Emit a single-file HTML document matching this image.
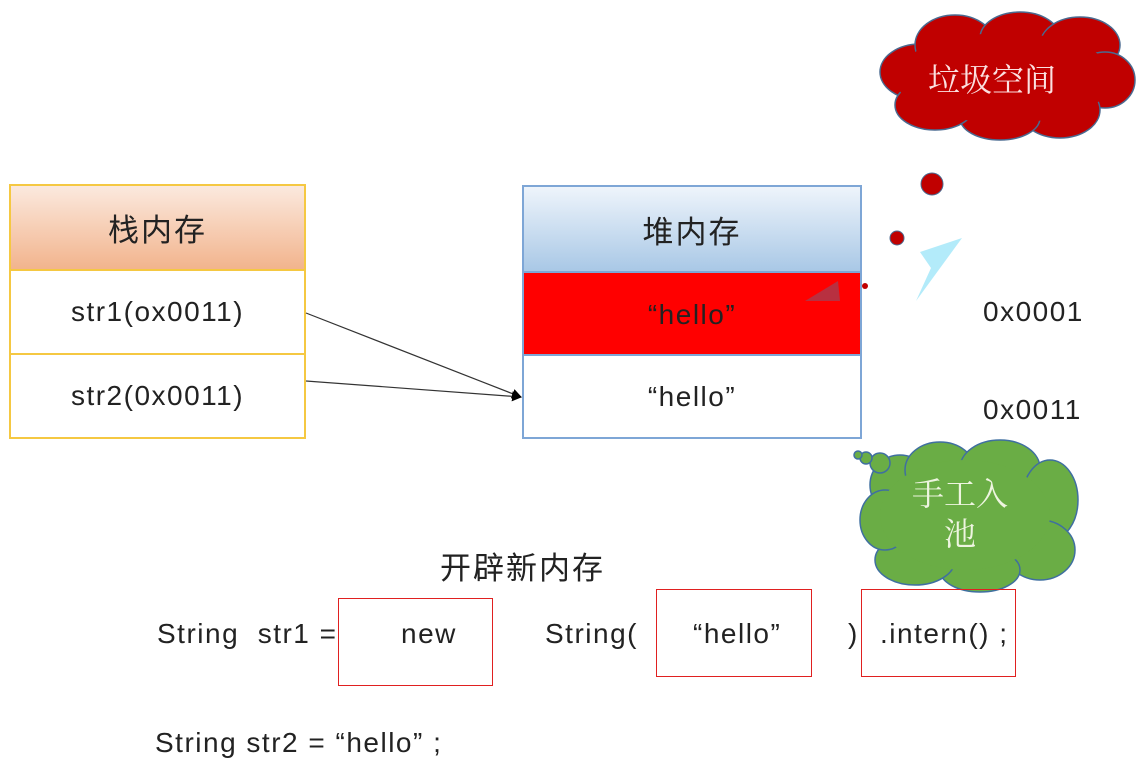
<!DOCTYPE html>
<html><head><meta charset="utf-8"><style>
body{margin:0;width:1148px;height:769px;background:#fff;position:relative;overflow:hidden;font-family:"Liberation Sans","Noto Sans CJK SC",sans-serif;color:#222}
.a{position:absolute;box-sizing:border-box}
.c{display:flex;align-items:center;justify-content:center;font-size:28px;letter-spacing:1.5px}
.t{position:absolute;font-size:28px;letter-spacing:1.5px;white-space:nowrap}
.z{font-family:'Noto Sans CJK SC',sans-serif;font-size:31px;letter-spacing:2px}
.rb{position:absolute;border:1.5px solid #e02020;box-sizing:border-box}
</style></head><body>
<!-- stack -->
<div class="a c z" style="left:9px;top:184px;width:297px;height:87px;border:2px solid #f5c842;background:linear-gradient(#fbe9de,#f2b48d)">栈内存</div>
<div class="a c" style="left:9px;top:269px;width:297px;height:86px;border:2px solid #f5c842">str1(ox0011)</div>
<div class="a c" style="left:9px;top:353px;width:297px;height:86px;border:2px solid #f5c842">str2(0x0011)</div>
<!-- heap -->
<div class="a c z" style="left:522px;top:185px;width:340px;height:88px;border:2px solid #7ea6d6;background:linear-gradient(#eef4fb,#a9c8e6)">堆内存</div>
<div class="a c" style="left:522px;top:271px;width:340px;height:85px;border:2px solid #7ea6d6;border-bottom:none;background:#ff0000">“hello”</div>
<div class="a c" style="left:522px;top:354px;width:340px;height:85px;border:2px solid #7ea6d6">“hello”</div>
<svg class="a" style="left:0;top:0" width="1148" height="769">
<defs><marker id="m" markerWidth="10" markerHeight="10" refX="9" refY="5" orient="auto" markerUnits="userSpaceOnUse"><path d="M0,0 L10,5 L0,10z" fill="#000"/></marker></defs>
<line x1="306" y1="313" x2="521" y2="397" stroke="#333" stroke-width="1.2" marker-end="url(#m)"/>
<line x1="306" y1="381" x2="521" y2="397" stroke="#333" stroke-width="1.2" marker-end="url(#m)"/>
<polygon points="805,301 838,281 840,301" fill="#b83040"/>
<g fill="#c00000" stroke="#4a6a90" stroke-width="1.5">
<ellipse cx="920" cy="72" rx="40" ry="28"/><ellipse cx="955" cy="45" rx="40" ry="30"/><ellipse cx="1020" cy="38" rx="40" ry="26"/><ellipse cx="1080" cy="45" rx="40" ry="28"/><ellipse cx="1105" cy="80" rx="30" ry="28"/><ellipse cx="1060" cy="110" rx="40" ry="28"/><ellipse cx="1000" cy="118" rx="40" ry="22"/><ellipse cx="935" cy="105" rx="40" ry="25"/>
</g>
<ellipse cx="1005" cy="78" rx="110" ry="45" fill="#c00000"/>
<circle cx="932" cy="184" r="11" fill="#c00000" stroke="#4a6a90"/>
<circle cx="897" cy="238" r="7" fill="#c00000" stroke="#4a6a90"/>
<circle cx="865" cy="286" r="3" fill="#c00000"/>
<polygon points="920,252 962,238 916,301 931,268" fill="#b3ebfa"/>
<g fill="#6aad45" stroke="#3f6fa0" stroke-width="1.5">
<ellipse cx="900" cy="485" rx="30" ry="30"/><ellipse cx="940" cy="470" rx="35" ry="28"/><ellipse cx="1000" cy="468" rx="40" ry="28"/><ellipse cx="1050" cy="500" rx="28" ry="40"/><ellipse cx="1040" cy="550" rx="35" ry="30"/><ellipse cx="980" cy="570" rx="40" ry="22"/><ellipse cx="915" cy="560" rx="40" ry="25"/><ellipse cx="885" cy="520" rx="25" ry="30"/>
<circle cx="880" cy="463" r="10"/><circle cx="866" cy="458" r="6"/><circle cx="858" cy="455" r="4"/>
</g>
<ellipse cx="965" cy="515" rx="85" ry="55" fill="#6aad45"/>
</svg>
<div class="t" style="left:928px;top:55px;color:#fbe0e0;font-family:'Noto Serif CJK SC',serif;font-size:32px;letter-spacing:0">垃圾空间</div>
<div class="t" style="left:912px;top:472px;color:#eef5e0;font-family:'Noto Serif CJK SC',serif;font-size:32px;letter-spacing:0;text-align:center;line-height:40px">手工入<br>池</div>
<div class="t" style="left:983px;top:296px">0x0001</div>
<div class="t" style="left:983px;top:394px">0x0011</div>
<div class="t z" style="left:440px;top:543px">开辟新内存</div>
<div class="rb" style="left:338px;top:598px;width:155px;height:88px"></div>
<div class="rb" style="left:656px;top:589px;width:156px;height:88px"></div>
<div class="rb" style="left:861px;top:589px;width:155px;height:88px"></div>
<div class="t" style="left:157px;top:618px">String&nbsp; str1 =</div>
<div class="t" style="left:401px;top:618px">new</div>
<div class="t" style="left:545px;top:618px">String(</div>
<div class="t" style="left:693px;top:618px">“hello”</div>
<div class="t" style="left:848px;top:618px">)</div>
<div class="t" style="left:880px;top:618px">.intern() ;</div>
<div class="t" style="left:155px;top:727px">String str2 = “hello” ;</div>
</body></html>
